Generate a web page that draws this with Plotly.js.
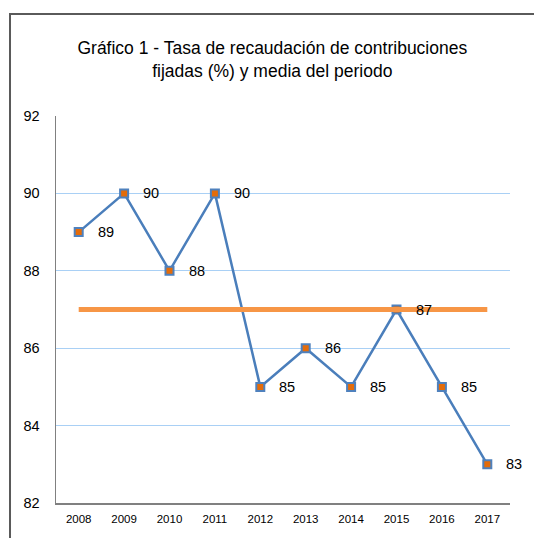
<!DOCTYPE html>
<html>
<head>
<meta charset="utf-8">
<script src="https://cdn.plot.ly/plotly-3.0.1.min.js"></script>
<style>
html,body{margin:0;padding:0;background:#fff;}
#chart{width:534px;height:538px;}
</style>
</head>
<body>
<div id="chart"></div>
<script>
const years = ["2008","2009","2010","2011","2012","2013","2014","2015","2016","2017"];
const tasa = [89, 90, 88, 90, 85, 86, 85, 87, 85, 83];
const media = 87;
const yTicks = [82, 84, 86, 88, 90, 92];

const mediaVals = years.map(() => media);
const FONT = "Liberation Sans, Arial, sans-serif";

const traceTasa = {
  x: years, y: tasa, type: "scatter", mode: "lines+markers",
  line: {color: "#4A7EBB", width: 2.5},
  marker: {symbol: "square", size: 8, color: "#E46C0A", line: {color: "#4F81BD", width: 2}},
  hoverinfo: "x+y", showlegend: false
};
const traceMedia = {
  x: years, y: mediaVals, type: "scatter", mode: "lines",
  line: {color: "#F79646", width: 5},
  hoverinfo: "y", showlegend: false
};

const labels = years.map((yr, i) => ({
  x: i, y: tasa[i], xref: "x", yref: "y",
  text: String(tasa[i]), showarrow: false,
  xanchor: "left", yanchor: "middle", xshift: 17,
  font: {family: FONT, size: 14.5, color: "#000"}
}));

const layout = {
  width: 534, height: 538,
  margin: {l: 56, r: 24, t: 116, b: 35},
  paper_bgcolor: "#fff", plot_bgcolor: "#fff",
  title: {
    text: "Gráfico 1 - Tasa de recaudación de contribuciones<br>fijadas (%) y media del periodo",
    font: {family: FONT, size: 17.5, color: "#000"},
    x: 0.51, xanchor: "center", y: 0.90, yanchor: "top", yref: "container"
  },
  xaxis: {
    type: "category", tickvals: years, ticktext: years,
    showgrid: false, zeroline: false,
    showline: true, linecolor: "#808080", linewidth: 1.5,
    ticks: "", ticklabelstandoff: 5,
    tickfont: {family: FONT, size: 11.5, color: "#000"},
    range: [-0.5, 9.5], fixedrange: true
  },
  yaxis: {
    range: [82, 92], tickvals: yTicks, ticktext: yTicks.map(String),
    showgrid: true, gridcolor: "#A9D0F5", gridwidth: 1,
    zeroline: false,
    showline: true, linecolor: "#808080", linewidth: 1.5,
    ticks: "", ticklabelstandoff: 12,
    tickfont: {family: FONT, size: 14.5, color: "#000"},
    fixedrange: true
  },
  annotations: labels,
  shapes: [
    {type: "path", xref: "paper", yref: "paper",
     path: "M -0.1013,-0.12 L -0.1013,1.2636 L 1.10,1.2636",
     line: {color: "#5A5A5A", width: 2}}
  ]
};

Plotly.newPlot("chart", [traceTasa, traceMedia], layout, {displayModeBar: false, staticPlot: true});
</script>
</body>
</html>
